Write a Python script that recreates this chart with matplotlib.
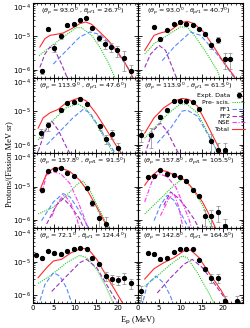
import numpy as np
import matplotlib
matplotlib.use('Agg')
import matplotlib.pyplot as plt
from matplotlib.ticker import LogLocator, NullFormatter, MultipleLocator

# angles shown in each panel (theta_p, theta_pf1)
angles = [(93.0, 26.7), (93.0, 40.7), (113.9, 47.6), (113.9, 61.5),
          (157.8, 91.5), (157.8, 105.5), (72.1, 124.4), (142.8, 164.8)]

# experimental points: energy (MeV), log10(yield), relative error
E1 = [2.1, 3.7, 5.1, 6.7, 8.2, 9.7, 11.1, 12.5, 14.1, 15.7, 17.1, 18.5, 19.9, 21.5, 23.1]
L1 = [-6.05, -4.79, -5.34, -5.0, -4.67, -4.64, -4.52, -4.45, -4.74, -5.04, -5.22, -5.32, -5.42, -5.65, -6.05]
R1 = [.15, .1, .25, .15, .08, .08, .08, .08, .1, .2, .3, .3, .35, .6, .6]

E2 = [3.8, 5.3, 6.9, 8.5, 9.9, 11.4, 12.9, 14.4, 15.9, 17.3, 18.8, 20.4, 21.8]
L2 = [-4.72, -5.09, -4.8, -4.62, -4.58, -4.62, -4.65, -4.77, -4.92, -5.27, -5.1, -5.68, -5.68]
R2 = [.08, .1, .08, .08, .08, .08, .08, .08, .15, .2, .2, .5, .5]

E3 = [1.9, 3.7, 6.7, 8.2, 9.7, 11.1, 12.7, 15.8, 17.2, 18.6, 20.1]
L3 = [-5.65, -5.42, -4.97, -4.74, -4.71, -4.64, -4.77, -5.45, -5.82, -5.67, -6.1]
R3 = [.3, .3, .1, .08, .08, .08, .08, .2, .3, .3, .4]

E4 = [0.8, 3.0, 5.3, 6.9, 8.5, 9.9, 11.4, 12.9, 14.4, 17.3, 18.8, 20.4]
L4 = [-5.7, -5.7, -5.17, -4.96, -4.69, -4.69, -4.69, -4.71, -4.94, -5.88, -6.15, -6.15]
R4 = [.4, .6, .15, .1, .08, .08, .08, .08, .1, .6, .6, .6]

E5 = [2.1, 3.7, 5.3, 6.7, 8.2, 9.7, 12.7, 14.1, 15.7, 17.2]
L5 = [-5.09, -4.53, -4.47, -4.45, -4.58, -4.68, -5.04, -5.49, -5.95, -6.12]
R5 = [.15, .08, .08, .08, .08, .08, .1, .2, .6, .6]

E6 = [2.4, 3.9, 5.3, 6.9, 8.5, 9.9, 11.4, 12.9, 14.4, 15.8, 17.3, 18.8, 20.4]
L6 = [-4.71, -4.68, -4.5, -4.61, -4.64, -4.71, -4.84, -5.09, -5.29, -5.87, -5.87, -5.77, -6.19]
R6 = [.08, .08, .08, .08, .08, .08, .08, .1, .1, .5, .5, .5, .6]

E7 = [0.7, 2.1, 3.7, 5.1, 6.7, 8.2, 9.7, 11.1, 12.7, 14.1, 15.7, 17.2, 18.6, 20.1, 21.6, 23.1]
L7 = [-4.8, -4.9, -4.68, -4.75, -4.78, -4.68, -4.61, -4.58, -4.61, -4.9, -5.08, -5.43, -5.52, -5.55, -5.48, -5.64]
R7 = [.08, .08, .08, .08, .08, .08, .08, .08, .08, .08, .1, .3, .3, .3, .35, .35]

E8 = [0.8, 2.4, 3.8, 5.3, 6.9, 8.5, 9.9, 11.4, 12.9, 14.4, 15.9, 17.3, 18.8, 20.4, 23.4]
L8 = [-5.89, -4.73, -4.78, -4.93, -4.88, -4.71, -4.61, -4.62, -4.61, -4.95, -5.21, -5.48, -5.48, -6.19, -6.19]
R8 = [.5, .08, .08, .08, .08, .08, .08, .08, .08, .08, .15, .3, .3, .5, .5]

# model curves: (energy, log10 yield)
tot1 = [(1.7, -5.32), (2.9, -5.07), (4.1, -4.97), (5.6, -4.94), (7.2, -4.9), (9.2, -4.77), (11.1, -4.62),
        (12.5, -4.57), (13.9, -4.64), (15.8, -4.87), (17.8, -5.12), (19.8, -5.42), (21.7, -5.78), (23.3, -6.15), (24.5, -6.5)]
pre1 = [(1.5, -5.58), (4.1, -5.32), (7.2, -5.02), (10.3, -4.74), (11.5, -4.74), (13.9, -4.97), (15.8, -5.32), (17.8, -5.78), (19.6, -6.3)]
ff1_1 = [(4.85, -5.83), (8.0, -5.42), (11.1, -5.02), (13.5, -4.87), (15.8, -4.94), (19.0, -5.32), (21.3, -5.73), (22.9, -6.03), (24.0, -6.35)]
ff2_1 = [(1.7, -5.93), (2.9, -5.53), (4.1, -5.32), (5.25, -5.42), (6.8, -5.83), (8.5, -6.35)]

tot2 = [(1.6, -5.42), (3.8, -4.97), (5.3, -4.9), (7.7, -4.82), (10.0, -4.6), (11.6, -4.55), (13.2, -4.62),
        (15.5, -4.87), (17.9, -5.32), (20.2, -5.78), (22.6, -6.18), (23.3, -6.35)]
pre2 = [(1.6, -5.53), (3.8, -5.22), (6.9, -4.97), (10.0, -4.72), (11.6, -4.72), (13.6, -5.02), (16.3, -5.53), (18.7, -6.03), (19.6, -6.35)]
ff1_2 = [(5.7, -5.73), (8.5, -5.32), (12.4, -4.87), (14.75, -4.97), (17.9, -5.42), (20.2, -5.78), (22.6, -6.23), (23.0, -6.35)]
ff2_2 = [(1.6, -5.93), (3.0, -5.53), (4.95, -5.27), (6.5, -5.42), (8.1, -5.93), (9.4, -6.35)]

tot3 = [(1.3, -5.5), (2.5, -5.19), (4.1, -5.04), (6.0, -4.94), (7.9, -4.74), (9.9, -4.64), (11.1, -4.59),
        (12.7, -4.69), (15.1, -5.09), (17.4, -5.55), (19.8, -6.05), (21.4, -6.35)]
pre3 = [(1.3, -5.85), (4.1, -5.35), (7.9, -4.89), (10.7, -4.77), (12.7, -4.94), (15.1, -5.39), (17.4, -5.9), (19.5, -6.35)]
ff1_3 = [(3.3, -6.0), (6.4, -5.6), (9.5, -5.19), (11.9, -4.94), (13.5, -5.04), (15.8, -5.5), (18.2, -6.0), (19.9, -6.35)]
ff2_3 = [(1.3, -6.2), (2.9, -5.6), (4.5, -5.29), (6.0, -5.55), (7.9, -6.05), (9.2, -6.35)]

tot4 = [(1.6, -5.65), (3.8, -5.19), (6.1, -4.89), (8.5, -4.69), (10.4, -4.61), (12.0, -4.64), (14.0, -4.84),
        (16.3, -5.39), (18.7, -6.0), (20.0, -6.35)]
pre4 = [(1.6, -5.8), (3.8, -5.5), (6.9, -5.09), (10.0, -4.77), (11.6, -4.79), (14.0, -5.04), (16.3, -5.6), (18.3, -6.1), (19.1, -6.35)]
ff1_4 = [(4.55, -5.95), (7.7, -5.5), (10.4, -4.99), (11.6, -4.96), (14.0, -5.14), (16.3, -5.65), (18.7, -6.2), (19.4, -6.35)]
ff2_4 = [(1.6, -6.3), (3.4, -5.6), (5.3, -5.35), (6.9, -5.6), (8.9, -6.1), (10.0, -6.35)]

tot5 = [(1.7, -5.11), (3.3, -4.61), (4.9, -4.45), (6.8, -4.45), (8.8, -4.55), (11.1, -4.81), (13.1, -5.16),
        (15.1, -5.62), (17.0, -6.07), (17.9, -6.35)]
pre5 = [(1.3, -5.82), (4.9, -5.62), (8.0, -5.26), (10.7, -4.91), (11.9, -4.84), (13.5, -5.11), (15.4, -5.62), (17.4, -6.12), (18.3, -6.35)]
ff1_5 = [(2.1, -6.02), (4.9, -5.46), (7.2, -5.21), (8.8, -5.31), (10.7, -5.67), (12.7, -6.12), (13.5, -6.35)]
ff2_5 = [(3.3, -6.12), (5.6, -5.56), (7.2, -5.36), (8.8, -5.56), (11.1, -5.97), (12.4, -6.35)]
nse5 = [(2.1, -5.21), (3.3, -4.65), (4.9, -4.55), (6.8, -4.64), (8.8, -4.91), (10.7, -5.46), (12.3, -5.97), (13.1, -6.35)]
nse5b = [(4.5, -5.9), (6.0, -5.45), (7.5, -5.25), (9.0, -5.5), (10.5, -6.0), (11.3, -6.35)]

tot6 = [(1.6, -4.96), (3.0, -4.71), (4.95, -4.5), (6.9, -4.55), (9.3, -4.71), (11.2, -4.81), (13.2, -5.11),
        (15.2, -5.46), (17.1, -5.92), (18.7, -6.35)]
pre6 = [(1.6, -5.82), (4.55, -5.46), (7.7, -5.06), (10.0, -4.81), (10.8, -4.78), (12.8, -5.06), (15.2, -5.56), (17.1, -6.12), (17.9, -6.35)]
ff1_6 = [(3.8, -6.02), (5.3, -5.56), (6.9, -5.26), (8.5, -5.41), (10.4, -5.87), (12.4, -6.35)]
ff2_6 = [(6.1, -5.56), (7.7, -5.16), (9.65, -5.36), (11.6, -5.67), (13.2, -5.97), (14.8, -6.35)]
nse6 = [(1.6, -5.46), (3.4, -4.81), (4.95, -4.61), (6.9, -4.71), (8.9, -5.01), (10.4, -5.46), (12.0, -5.97), (12.9, -6.35)]
nse6b = [(5.3, -5.87), (7.3, -5.36), (8.5, -5.21), (9.65, -5.62), (10.8, -6.35)]

tot7 = [(1.3, -5.48), (3.3, -5.18), (4.9, -4.98), (6.8, -4.93), (9.1, -4.73), (11.5, -4.6), (13.1, -4.62),
        (15.1, -4.93), (17.4, -5.43), (19.8, -5.94), (21.7, -6.35)]
pre7 = [(1.3, -5.65), (4.1, -5.43), (8.0, -5.03), (11.1, -4.81), (12.7, -4.88), (15.1, -5.23), (17.4, -5.79), (19.4, -6.35)]
ff1_7 = [(1.3, -6.35), (2.9, -5.68), (4.9, -5.33), (6.4, -5.43), (8.0, -5.79), (9.5, -6.35)]
ff2_7 = [(4.5, -5.89), (8.0, -5.43), (11.1, -5.03), (12.7, -4.93), (15.1, -5.18), (17.4, -5.68), (19.8, -6.19), (20.3, -6.35)]

tot8 = [(1.6, -5.52), (3.8, -5.21), (6.1, -5.03), (8.5, -4.88), (10.8, -4.68), (12.4, -4.65), (14.4, -4.88),
        (16.7, -5.33), (19.5, -5.84), (21.8, -6.35)]
pre8 = [(1.6, -5.74), (4.55, -5.43), (7.7, -5.08), (10.4, -4.83), (11.6, -4.88), (14.0, -5.33), (16.7, -5.94), (18.3, -6.35)]
ff1_8 = [(0.9, -6.35), (2.2, -5.68), (4.2, -5.43), (6.1, -5.64), (7.7, -6.04), (8.5, -6.35)]
ff2_8 = [(4.55, -5.94), (7.7, -5.48), (10.8, -5.08), (12.8, -4.93), (15.2, -5.18), (17.9, -5.64), (21.0, -6.19), (21.6, -6.35)]

data = [(E1, L1, R1), (E2, L2, R2), (E3, L3, R3), (E4, L4, R4),
        (E5, L5, R5), (E6, L6, R6), (E7, L7, R7), (E8, L8, R8)]
totals = [tot1, tot2, tot3, tot4, tot5, tot6, tot7, tot8]
pres = [pre1, pre2, pre3, pre4, pre5, pre6, pre7, pre8]
ff1s = [ff1_1, ff1_2, ff1_3, ff1_4, ff1_5, ff1_6, ff1_7, ff1_8]
ff2s = [ff2_1, ff2_2, ff2_3, ff2_4, ff2_5, ff2_6, ff2_7, ff2_8]
nses = {4: [nse5, nse5b], 5: [nse6, nse6b]}

c_tot = '#ff2a2a'
c_pre = '#22cc22'
c_ff1 = '#5588ff'
c_ff2 = '#9933bb'
c_nse = '#ff33ee'
nse_ls = (0, (4, 1.5, 1, 1.5))

def curve(ax, pts, **kw):
    e = [p[0] for p in pts]
    v = [10 ** p[1] for p in pts]
    return ax.plot(e, v, lw=0.8, **kw)[0]

fig, axes = plt.subplots(4, 2, figsize=(2.51, 3.28), dpi=100, sharex=True, sharey=True)
fig.subplots_adjust(left=0.130, right=0.969, top=0.991, bottom=0.075, wspace=0, hspace=0)

for i, ax in enumerate(axes.flat):
    E, L, R = data[i]
    y = 10 ** np.array(L)
    err = y * np.array(R)
    eb = ax.errorbar(E, y, yerr=err, fmt='o', color='black', ms=2.8, ecolor='#999999',
                     elinewidth=0.6, capsize=1.2, capthick=0.6, zorder=5)
    h_pre = curve(ax, pres[i], color=c_pre, ls=(0, (1, 1)))
    h_ff1 = curve(ax, ff1s[i], color=c_ff1, ls=(0, (4, 2)))
    h_ff2 = curve(ax, ff2s[i], color=c_ff2, ls=(0, (4, 2)))
    for n in nses.get(i, []):
        curve(ax, n, color=c_nse, ls=nse_ls)
    h_tot = curve(ax, totals[i], color=c_tot, ls='-')
    tp, tf = angles[i]
    ax.text(0.48, 0.895, r'($\theta_p$ = %.1f$^0$ , $\theta_{pf1}$ = %.1f$^0$)' % (tp, tf),
            transform=ax.transAxes, ha='center', va='center', fontsize=4.6)

    ax.set_yscale('log')
    ax.set_ylim(10 ** -6.25, 1e-4)
    ax.set_xlim(0, 24.8)
    ax.set_xticks([0, 5, 10, 15, 20])
    ax.xaxis.set_minor_locator(MultipleLocator(1))
    ax.yaxis.set_major_locator(LogLocator(base=10, numticks=10))
    ax.yaxis.set_minor_locator(LogLocator(base=10, subs=np.arange(2, 10), numticks=10))
    ax.yaxis.set_minor_formatter(NullFormatter())
    ax.tick_params(which='both', direction='in', top=True, right=True, labelsize=5, pad=1.5)
    ax.tick_params(which='major', length=3, width=0.6)
    ax.tick_params(which='minor', length=1.5, width=0.5)
    for s in ax.spines.values():
        s.set_linewidth(0.8)

    if i == 3:
        h_nse, = ax.plot([], [], color=c_nse, lw=0.8, ls=nse_ls)
        ax.legend([eb, h_pre, h_ff1, h_ff2, h_nse, h_tot],
                  ['Expt. Data', 'Pre- scis.', 'FF1', 'FF2', 'NSE', 'Total'],
                  loc='upper right', bbox_to_anchor=(1.02, 0.8), frameon=False, fontsize=4.5,
                  markerfirst=False, handlelength=2.1, handletextpad=0.3, labelspacing=0.22,
                  borderpad=0.0, borderaxespad=0.0)

fig.text(0.035, 0.5, 'Protons/(Fission MeV sr)', rotation=90, ha='center', va='center',
         fontsize=6, family='Liberation Serif')
fig.text(0.55, 0.022, r'E$_{\rm p}$ (MeV)', ha='center', va='center', fontsize=6,
         family='Liberation Serif')

# keep the 10^-4 labels below the panel joins so they do not hit the 10^-6 labels above
fig.canvas.draw()
for ax in axes[:, 0]:
    for t in ax.yaxis.get_major_ticks():
        if np.isclose(t.get_loc(), 1e-4):
            t.label1.set_va('top')

plt.savefig('out.png', dpi=100)
